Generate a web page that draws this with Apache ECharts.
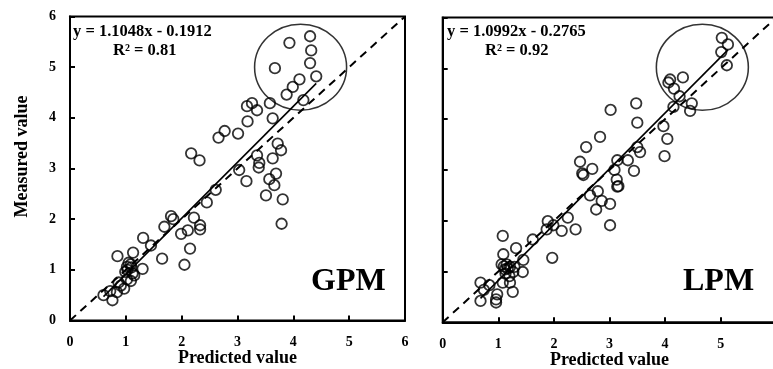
<!DOCTYPE html>
<html>
<head>
<meta charset="utf-8">
<script src="https://cdn.jsdelivr.net/npm/echarts@6/dist/echarts.min.js"></script>
<style>
  html, body { margin: 0; padding: 0; background: #fff; }
  #chart { width: 773px; height: 369px; }
</style>
</head>
<body>
<div id="chart"></div>
<script>
// Predicted vs measured values, GPM model
const gpmPredicted = [4.30, 3.93, 4.32, 4.30, 3.67, 4.41, 4.11, 3.99, 3.88, 4.18, 3.58,
  3.17, 3.26, 3.35, 3.18, 3.63, 2.77, 2.66, 3.01, 2.17, 2.32, 3.72, 3.78, 3.35, 3.39,
  3.38, 3.63, 3.03, 3.16, 3.69, 3.57, 3.66, 3.51, 3.81, 3.79, 2.61, 2.45, 1.81, 1.85,
  1.69, 2.22, 2.33, 2.33, 2.11, 1.99, 2.15, 2.05, 1.31, 1.45, 1.65, 0.85, 1.13, 1.05,
  1.09, 1.02, 1.30, 0.99, 1.15, 1.09, 1.02, 0.87, 0.97, 0.84, 0.72, 0.60, 0.76, 0.91,
  1.03, 1.10, 1.12];
const gpmMeasured = [5.61, 5.48, 5.33, 5.08, 4.98, 4.82, 4.76, 4.61, 4.46, 4.35, 4.29,
  4.23, 4.29, 4.15, 3.93, 3.99, 3.74, 3.61, 3.69, 3.30, 3.16, 3.49, 3.36, 3.26, 3.11,
  3.02, 3.20, 2.97, 2.75, 2.90, 2.79, 2.67, 2.47, 2.39, 1.91, 2.58, 2.33, 2.06, 2.00,
  1.85, 2.03, 1.88, 1.80, 1.78, 1.71, 1.42, 1.10, 1.63, 1.48, 1.22, 1.27, 1.34, 1.14,
  1.11, 1.06, 1.02, 0.96, 0.89, 0.78, 0.81, 0.75, 0.63, 0.56, 0.58, 0.50, 0.40, 0.69,
  1.00, 1.05, 0.93];

// Predicted vs measured values, LPM model
const lpmPredicted = [5.02, 5.13, 5.01, 5.11, 4.32, 4.09, 4.06, 4.16, 4.26, 4.15, 4.48,
  4.45, 3.48, 3.02, 3.50, 3.97, 4.04, 3.99, 2.83, 2.58, 2.47, 2.69, 2.51, 3.50, 3.55,
  3.33, 3.14, 3.09, 3.44, 3.13, 3.14, 2.79, 2.65, 2.86, 3.01, 2.76, 3.01, 2.25, 1.89,
  1.99, 1.87, 2.14, 2.39, 1.62, 1.97, 1.08, 1.32, 1.09, 1.45, 1.06, 1.15, 1.21, 1.29,
  1.12, 1.44, 1.27, 1.20, 1.21, 1.08, 1.26, 0.68, 0.84, 0.74, 0.68, 0.98, 0.96, 0.96,
  1.10, 1.17, 1.13, 2.53, 3.16];
const lpmMeasured = [5.60, 5.47, 5.32, 5.06, 4.82, 4.78, 4.72, 4.60, 4.45, 4.24, 4.31,
  4.16, 4.31, 4.18, 3.93, 3.86, 3.61, 3.27, 3.65, 3.45, 3.16, 3.02, 2.93, 3.45, 3.35,
  3.19, 3.19, 3.00, 2.98, 2.81, 2.67, 2.58, 2.50, 2.39, 2.33, 2.22, 1.91, 2.06, 1.99,
  1.91, 1.83, 1.80, 1.83, 1.63, 1.27, 1.70, 1.46, 1.34, 1.23, 1.14, 1.14, 1.09, 1.09,
  1.04, 0.99, 0.99, 0.91, 0.78, 0.78, 0.60, 0.78, 0.73, 0.64, 0.42, 0.55, 0.45, 0.39,
  1.10, 1.06, 0.96, 2.90, 2.68];

// Linear fits
const gpmFit = { slope: 1.1048, intercept: -0.1912, r2: 0.81 };
const lpmFit = { slope: 1.0992, intercept: -0.2765, r2: 0.92 };

// Highlighted high-value groups (centre in data units)
const gpmHighlight = [4.13, 5.00];
const lpmHighlight = [4.67, 5.02];

// Axis range and 1:1 reference
const axisRange = [0, 6];

const FONT = "'Liberation Serif', 'Times New Roman', serif";

function pairs(xs, ys) { return xs.map((x, i) => [x, ys[i]]); }
function fitLine(fit, xs) {
  const lo = Math.min(...xs), hi = Math.max(...xs);
  return [[lo, fit.slope * lo + fit.intercept], [hi, fit.slope * hi + fit.intercept]];
}
function fmtEq(fit) {
  const sign = fit.intercept < 0 ? '-' : '+';
  return 'y = ' + fit.slope.toFixed(4) + 'x ' + sign + ' ' + Math.abs(fit.intercept).toFixed(4);
}

const labelStyle = { color: '#000', fontFamily: FONT, fontWeight: 'bold', fontSize: 14 };
const nameStyle = { color: '#000', fontFamily: FONT, fontWeight: 'bold', fontSize: 18 };

function xAxis(gridIndex) {
  return {
    type: 'value', gridIndex, min: axisRange[0], max: axisRange[1], interval: 1,
    name: 'Predicted value', nameLocation: 'middle', nameGap: 29, nameMoveOverlap: false,
    nameTextStyle: nameStyle,
    axisLine: { show: true, lineStyle: { color: '#000', width: 2 } },
    axisTick: { show: true, inside: true, length: 5, lineStyle: { color: '#000', width: 2 } },
    axisLabel: Object.assign({ margin: 15, showMaxLabel: true }, labelStyle),
    splitLine: { show: false }
  };
}
function yAxis(gridIndex, withLabels) {
  return {
    type: 'value', gridIndex, min: axisRange[0], max: axisRange[1], interval: 1,
    name: withLabels ? 'Measured value' : '', nameLocation: 'middle', nameGap: 39,
    nameMoveOverlap: false,
    nameTextStyle: Object.assign({ padding: [0, 0, 0, 24] }, nameStyle),
    axisLine: { show: true, lineStyle: { color: '#000', width: 2 } },
    axisTick: { show: true, inside: true, length: 5, lineStyle: { color: '#000', width: 2 } },
    axisLabel: Object.assign({ show: withLabels, margin: 14 }, labelStyle),
    splitLine: { show: false }
  };
}

function seriesFor(idx, xs, ys, fit, highlight) {
  return [
    {
      type: 'line', xAxisIndex: idx, yAxisIndex: idx, silent: true, symbol: 'none',
      data: [[axisRange[0], axisRange[0]], [axisRange[1], axisRange[1]]],
      lineStyle: { color: '#000', width: 2, type: [8, 6] }, z: 2
    },
    {
      type: 'line', xAxisIndex: idx, yAxisIndex: idx, silent: true, symbol: 'none',
      data: fitLine(fit, xs),
      lineStyle: { color: '#000', width: 1.6 }, z: 3
    },
    {
      type: 'scatter', xAxisIndex: idx, yAxisIndex: idx, silent: true,
      data: pairs(xs, ys), symbol: 'circle', symbolSize: 10.5,
      itemStyle: { color: 'rgba(0,0,0,0)', borderColor: '#000', borderWidth: 1.8 }, z: 4
    },
    {
      type: 'scatter', xAxisIndex: idx, yAxisIndex: idx, silent: true,
      data: [highlight], symbol: 'circle', symbolSize: [92, 86],
      itemStyle: { color: 'rgba(0,0,0,0)', borderColor: '#000', borderWidth: 1.5 }, z: 5
    }
  ];
}

const chart = echarts.init(document.getElementById('chart'), null, { renderer: 'canvas' });
chart.setOption({
  backgroundColor: '#fff',
  animation: false,
  grid: [
    { left: 70, top: 16.5, width: 335, height: 304, show: true, borderColor: '#000', borderWidth: 2, backgroundColor: 'transparent', outerBoundsMode: 'none' },
    { left: 442.7, top: 17.5, width: 333.6, height: 304.8, show: true, borderColor: '#000', borderWidth: 2, backgroundColor: 'transparent', outerBoundsMode: 'none' }
  ],
  xAxis: [xAxis(0), xAxis(1)],
  yAxis: [yAxis(0, true), yAxis(1, false)],
  series: [].concat(
    seriesFor(0, gpmPredicted, gpmMeasured, gpmFit, gpmHighlight),
    seriesFor(1, lpmPredicted, lpmMeasured, lpmFit, lpmHighlight)
  ),
  graphic: [
    { type: 'text', left: 73, top: 23, style: { text: fmtEq(gpmFit), font: 'bold 16.5px ' + FONT, fill: '#000' } },
    { type: 'text', left: 113, top: 42, style: { text: 'R² = ' + gpmFit.r2.toFixed(2), font: 'bold 16.5px ' + FONT, fill: '#000' } },
    { type: 'text', left: 311, top: 266, style: { text: 'GPM', font: 'bold 32px ' + FONT, fill: '#000' } },
    { type: 'text', left: 447, top: 23, style: { text: fmtEq(lpmFit), font: 'bold 16.5px ' + FONT, fill: '#000' } },
    { type: 'text', left: 485, top: 42, style: { text: 'R² = ' + lpmFit.r2.toFixed(2), font: 'bold 16.5px ' + FONT, fill: '#000' } },
    { type: 'text', left: 683, top: 266, style: { text: 'LPM', font: 'bold 32px ' + FONT, fill: '#000' } }
  ]
});
</script>
</body>
</html>
